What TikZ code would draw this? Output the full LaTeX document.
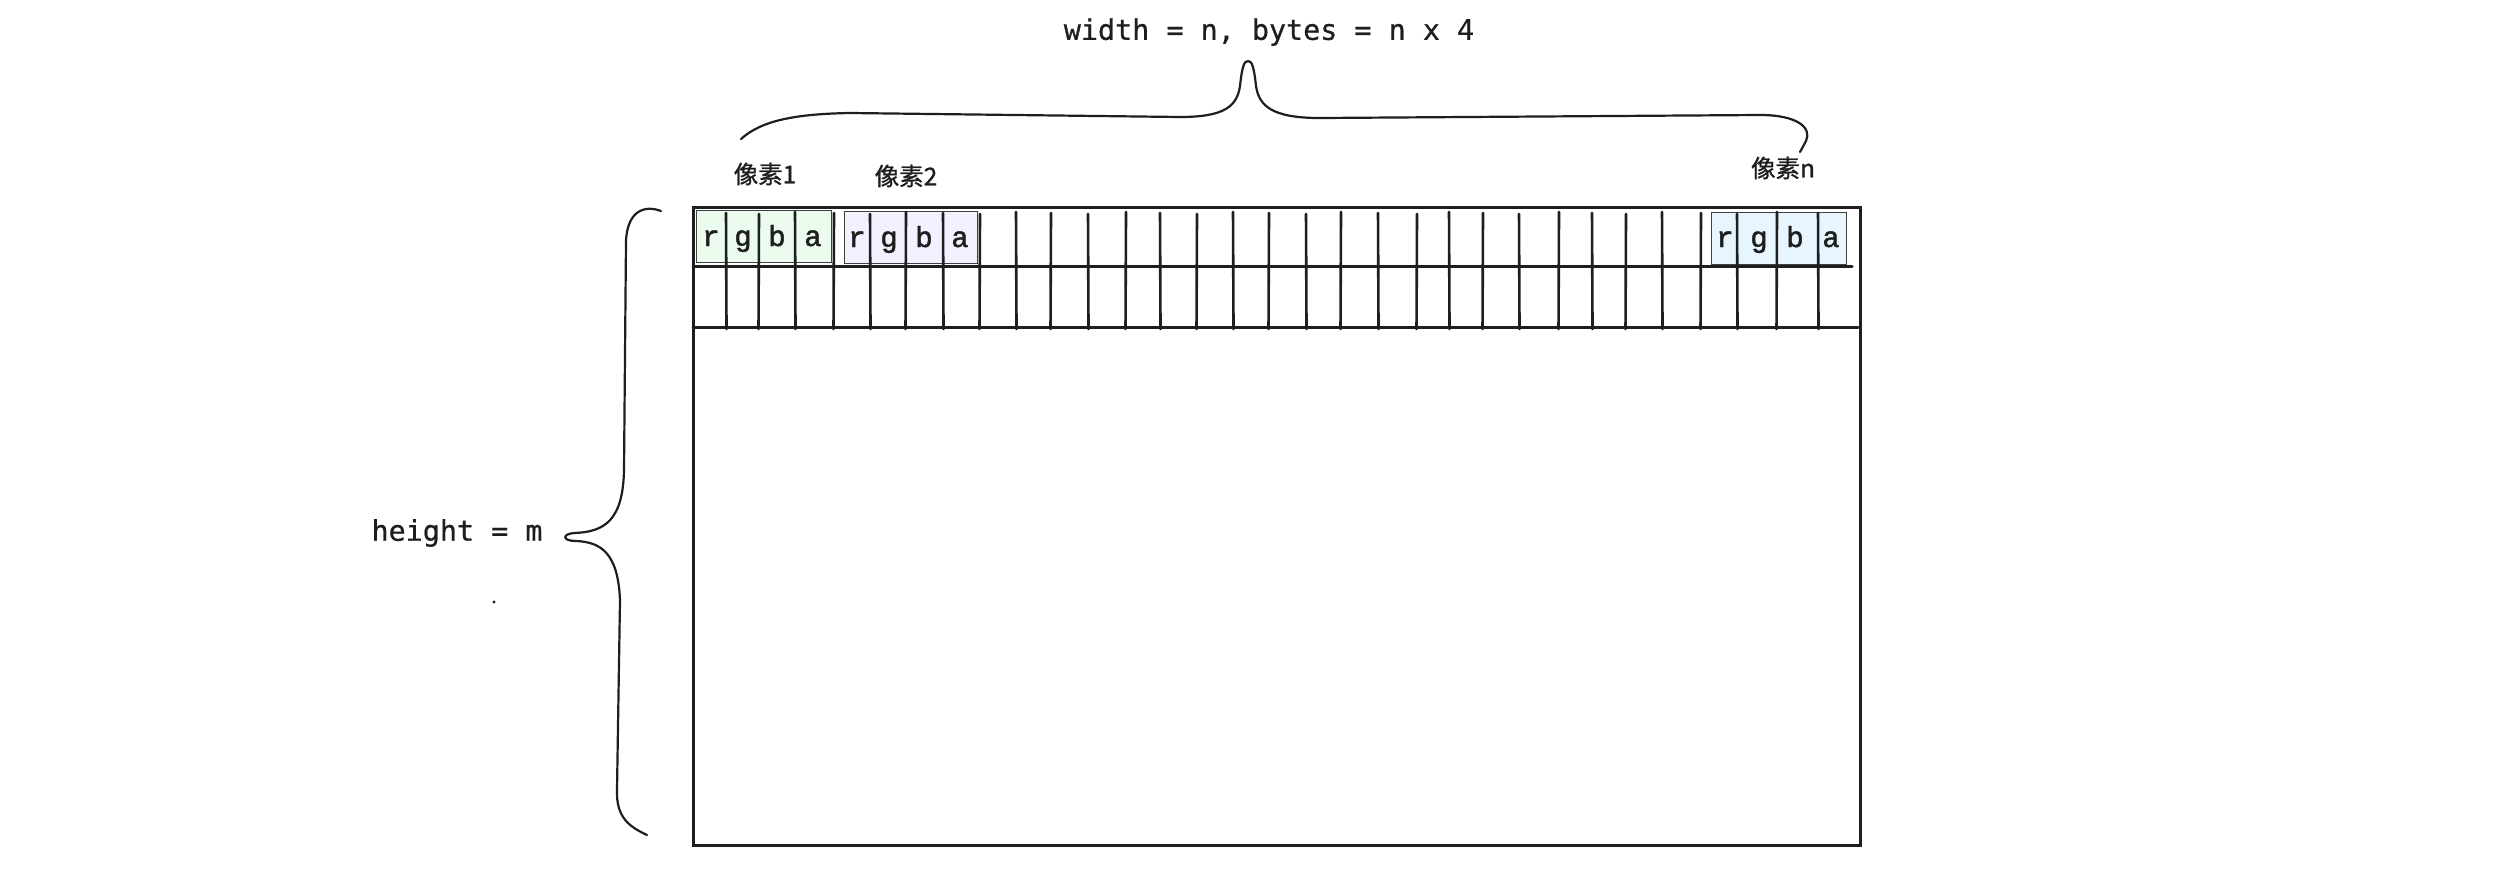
\documentclass[tikz,border=0pt]{standalone}
\usepackage{fontspec}
\setmonofont{DejaVu Sans Mono}[FakeBold=0.6]
\newfontfamily\cjkfont{Noto Sans CJK SC}[FakeBold=1.2]
\newfontfamily\rgbfont{Liberation Mono}[FakeBold=1.6]
\definecolor{inkc}{HTML}{1E1E1E}
\definecolor{greenc}{HTML}{EBFBEE}
\definecolor{purplec}{HTML}{F3F0FF}
\definecolor{bluec}{HTML}{E7F5FF}
\begin{document}
\begin{tikzpicture}[x=1pt,y=-1pt,
  frame/.style={draw=inkc, line width=3pt, line cap=round},
  vline/.style={draw=inkc, line width=2.6pt, line cap=round},
  pbox/.style={draw=inkc!85, line width=1.4pt, minimum width=135, minimum height=52, inner sep=0, anchor=north west},
  letter/.style={font=\rgbfont\fontsize{29}{32}\selectfont, text=inkc, inner sep=0, anchor=base},
  monolbl/.style={font=\ttfamily\fontsize{28.4}{34}\selectfont, text=inkc, inner sep=0},
  cjklbl/.style={font=\cjkfont\fontsize{24.5}{28}\selectfont, text=inkc, inner sep=0},
  brace/.style={draw=inkc, line width=2.2pt, line cap=round, line join=round}]
\useasboundingbox (0,0) rectangle (2510,868);
\fill[white] (0,0) rectangle (2510,868);

% coloured pixel groups
\node[pbox, fill=greenc] (p1) at (696,210) {};
\node[pbox, fill=purplec, minimum width=133] (p2) at (844,211) {};
\node[pbox, fill=bluec] (pn) at (1711,212) {};

% grid
\draw[frame] (693,207) rectangle (1860,845);
\draw[frame] (693,266) -- (1852,266);
\draw[frame] (693,327) -- (1858,327);
\foreach \x [count=\i] in {726,759,795,834,870,906,943,980,1016,1051,1088,1126,1160,1197,1233,1269,1306,1341,1378,1417,1449,1483,1519,1559,1592,1626,1662,1701,1737,1777,1818}
  \draw[vline] (\x,{212+mod(\i,3)}) -- ({\x+mod(\i,2)-0.5},329);

% letters
\foreach \c/\xa/\xb/\xc [count=\k] in {r/711/857/1725, g/743/889/1759, b/777/924/1795, a/813/960/1831} {
  \node[letter] (l1\k) at (\xa,246) {\c};
  \node[letter] (l2\k) at (\xb,247) {\c};
  \node[letter] (ln\k) at (\xc,247) {\c};
}

% labels
\node[monolbl] (wlbl) at (1269,32) {width = n, bytes = n x 4};
\node[monolbl] (hlbl) at (457,533) {height = m};
\node[cjklbl] (c1) at (765,174) {像素1};
\node[cjklbl] (c2) at (906,176) {像素2};
\node[cjklbl] (cn) at (1783,168) {像素n};

% top brace
\coordinate (tb1) at (741,139);
\coordinate (tb2) at (1800,152);
\draw[brace] (tb1) .. controls (760,122) and (790,114) .. (850,113)
  -- (1180,117) .. controls (1225,117) and (1237,106) .. (1240,86)
  .. controls (1242,67) and (1244,61) .. (1248,61)
  .. controls (1252,61) and (1254,67) .. (1256,86)
  .. controls (1259,106) and (1272,118) .. (1320,118)
  -- (1760,115) .. controls (1798,115) and (1812,128) .. (1806,141)
  -- (tb2);

% left brace
\coordinate (lb1) at (661,211);
\coordinate (lb2) at (647,835);
\draw[brace] (lb1) .. controls (645,205) and (628,210) .. (626,240)
  -- (624,470) .. controls (623,520) and (605,532) .. (574,533)
  .. controls (562,534) and (562,541) .. (576,541)
  .. controls (600,542) and (618,552) .. (620,600)
  -- (617,790) .. controls (616,818) and (630,827) .. (lb2);

% stray dot
\fill[inkc] (494,602) circle (1.6);
\end{tikzpicture}
\end{document}
